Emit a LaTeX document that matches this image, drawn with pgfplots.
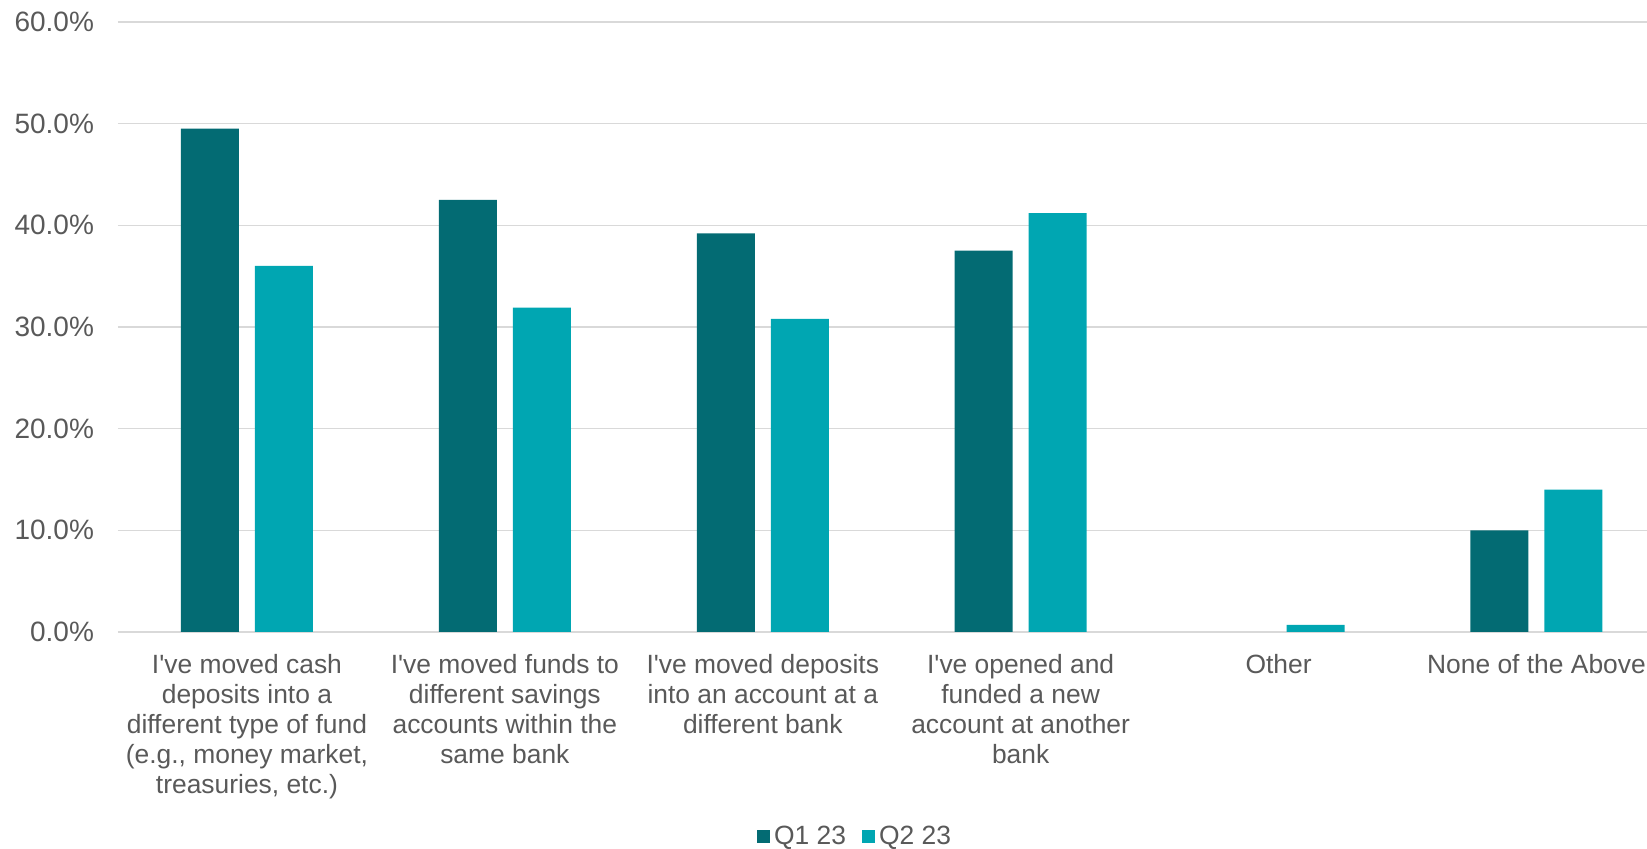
\documentclass[border=0pt]{standalone}
\usepackage{pgfplots}
\pgfplotsset{compat=1.18}
\usepackage{fontspec}
\setmainfont{Liberation Sans}
\definecolor{qone}{RGB}{3,107,115}
\definecolor{qtwo}{RGB}{0,166,178}
\definecolor{txt}{RGB}{89,89,89}
\definecolor{gridc}{RGB}{217,217,217}
\begin{document}
\begin{tikzpicture}
\begin{axis}[
  at={(0,0)}, anchor=south west,
  scale only axis,
  width=773.7pt, height=305pt,
  xmin=-0.5, xmax=5.5, ymin=0, ymax=60,
  ybar=8pt, bar width=29pt,
  axis x line*=bottom, axis y line*=left,
  x axis line style={gridc, line width=0.8pt},
  y axis line style={draw=none},
  ymajorgrids, grid style={gridc, line width=0.8pt},
  ytick={0,10,...,60},
  yticklabels={0.0\%,10.0\%,20.0\%,30.0\%,40.0\%,50.0\%,60.0\%},
  xtick={0,1,2,3,4,5},
  xticklabels={{I\textquotesingle ve moved cash\\deposits into a\\different type of fund\\(e.g., money market,\\treasuries, etc.)},
    {I\textquotesingle ve moved funds to\\different savings\\accounts within the\\same bank},
    {I\textquotesingle ve moved deposits\\into an account at a\\different bank},
    {I\textquotesingle ve opened and\\funded a new\\account at another\\bank},
    {Other},{None of the Above}},
  major tick length=0pt,
  tick label style={text=txt},
  xticklabel style={font=\fontsize{13.2}{15}\selectfont, align=center, yshift=-7.5pt},
  yticklabel style={font=\fontsize{14}{16}\selectfont, xshift=-8.5pt},
  ytick style={draw=none}, xtick style={draw=none},
  legend style={at={(axis description cs:0.477,-0.336)}, anchor=center, draw=none,
    font=\fontsize{13.2}{15}\selectfont, text=txt, legend columns=2,
    /tikz/every even column/.append style={column sep=6pt}},
  legend image code/.code={\fill[#1] (0pt,-3.2pt) rectangle (6.5pt,3.3pt);},
]
\addplot[fill=qone, draw=none] coordinates {(0,49.5) (1,42.5) (2,39.2) (3,37.5) (5,10.0)};
\addplot[fill=qtwo, draw=none] coordinates {(0,36.0) (1,31.9) (2,30.8) (3,41.2) (4,0.7) (5,14.0)};
\legend{Q1 23, Q2 23}
\end{axis}
\pgfresetboundingbox
\path[use as bounding box] (-59pt,-108.5pt) rectangle (764.5pt,316pt);
\end{tikzpicture}
\end{document}
